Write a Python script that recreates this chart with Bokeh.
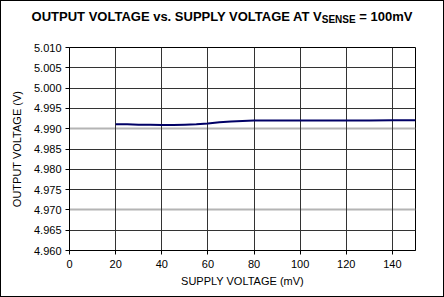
from bokeh.plotting import figure
from bokeh.models import FixedTicker, Grid, Range1d, NumeralTickFormatter, Div
from bokeh.layouts import column
from bokeh.embed import file_html
from bokeh.resources import INLINE

supply_mv = [20, 25, 30, 35, 40, 45, 50, 55, 60, 65, 70, 75, 80, 90, 100, 110, 120, 130, 140, 150]
vout = [4.9911, 4.9911, 4.9910, 4.9910, 4.9909, 4.9909, 4.9910, 4.9911, 4.9913, 4.9916,
        4.9918, 4.9919, 4.9920, 4.9920, 4.9920, 4.9920, 4.9920, 4.9920, 4.9921, 4.9921]
x_ticks = [0, 20, 40, 60, 80, 100, 120, 140]
y_ticks = [4.960, 4.965, 4.970, 4.975, 4.980, 4.985, 4.990, 4.995, 5.000, 5.005, 5.010]
light_y_ticks = [4.970, 4.990]
title_main = "OUTPUT VOLTAGE vs. SUPPLY VOLTAGE AT V"
title_sub = "SENSE"
title_end = " = 100mV"

FONT = "Liberation Sans"
W, H = 442, 295          # inside a 1px page border
TH = 32                  # title strip height
MH = H - TH

# ---- title strip ----
title_html = (
    f'<div style="width:{W}px;padding-top:9px;text-align:center;font-family:\'{FONT}\';'
    f'font-weight:bold;font-size:13px;line-height:13px;color:black;white-space:nowrap;">'
    f'{title_main}<span style="font-size:10px;position:relative;top:2px;">{title_sub}</span>{title_end}</div>'
)
t = Div(text=title_html, width=W, height=TH, styles={"margin": "0", "padding": "0", "background-color": "white"})

# ---- main chart ----
p = figure(width=W, height=MH, output_backend="svg", toolbar_location=None,
           x_range=Range1d(0, 150), y_range=Range1d(4.960, 5.010),
           min_border_left=68, min_border_right=28, min_border_top=14, min_border_bottom=46)
p.background_fill_color = "white"
p.border_fill_color = "white"
p.outline_line_color = "black"
p.outline_line_width = 1

p.xgrid.visible = False
p.ygrid.visible = False
dark_y = [v for v in y_ticks if v not in light_y_ticks]
p.add_layout(Grid(dimension=1, ticker=FixedTicker(ticks=dark_y), grid_line_color="#333333", grid_line_width=1))
p.add_layout(Grid(dimension=1, ticker=FixedTicker(ticks=light_y_ticks), grid_line_color="#b4b4b4", grid_line_width=2))
p.add_layout(Grid(dimension=0, ticker=FixedTicker(ticks=x_ticks), grid_line_color="#333333", grid_line_width=1))

p.xaxis.ticker = FixedTicker(ticks=x_ticks)
p.yaxis.ticker = FixedTicker(ticks=y_ticks)
p.yaxis.formatter = NumeralTickFormatter(format="0.000")
for ax in (p.xaxis, p.yaxis):
    ax.axis_line_color = "black"
    ax.major_tick_line_color = "black"
    ax.major_tick_out = 4
    ax.major_tick_in = 0
    ax.minor_tick_line_color = None
    ax.major_label_text_font = FONT
    ax.major_label_text_font_size = "11px"
    ax.major_label_text_color = "black"
    ax.axis_label_text_font = FONT
    ax.axis_label_text_font_size = "11px"
    ax.axis_label_text_font_style = "normal"
    ax.axis_label_text_color = "black"
p.xaxis.axis_label = "SUPPLY VOLTAGE (mV)"
p.yaxis.axis_label = "OUTPUT VOLTAGE (V)"
p.xaxis.axis_label_standoff = 4
p.yaxis.axis_label_standoff = 8
p.xaxis.major_label_standoff = 5
p.yaxis.major_label_standoff = 4

p.line(supply_mv, vout, line_color="#000066", line_width=2)

layout = column(t, p, spacing=0, styles={"border": "1px solid black", "background-color": "white"})
open("out.html", "w").write(file_html(layout, INLINE))
